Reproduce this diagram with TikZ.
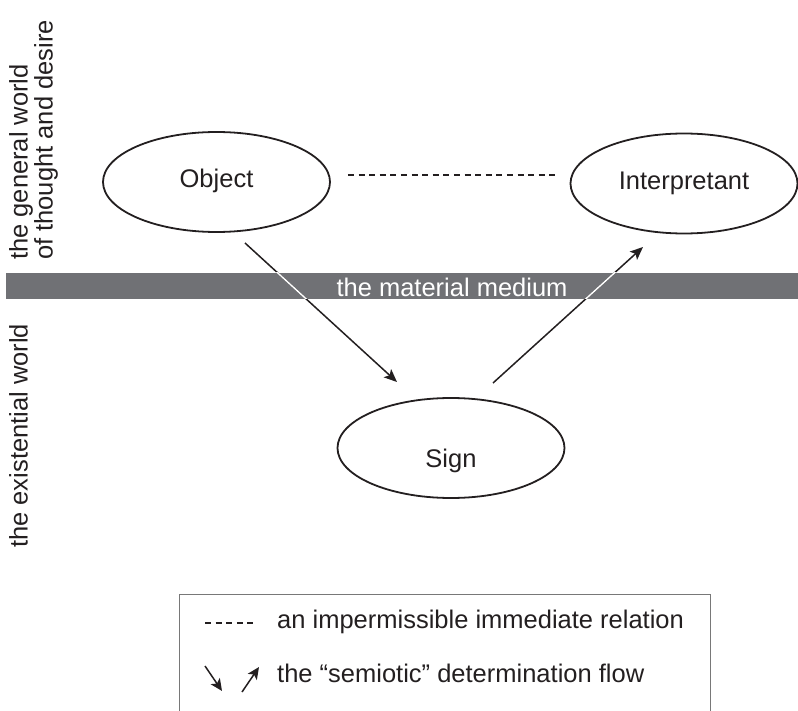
\documentclass[tikz,border=0pt]{standalone}
\usepackage{fontspec}
\setmainfont{Liberation Sans}
\usepackage{tikz}
\usetikzlibrary{shapes.geometric, arrows.meta, calc}
\definecolor{grisBande}{RGB}{112, 113, 117}
\definecolor{noirTrait}{RGB}{35, 31, 32}
\definecolor{grisCadre}{RGB}{120, 120, 120}

\begin{document}
\begin{tikzpicture}[x=1pt, y=-1pt,
  idea/.style={ellipse, draw=noirTrait, line width=1.8pt,
    minimum width=227pt, minimum height=100pt, inner sep=0pt},
  flow/.style={draw=noirTrait, line width=1.5pt,
    -{Stealth[length=13pt, width=11pt, inset=3pt]}},
  relation/.style={draw=noirTrait, line width=1.4pt, dash pattern=on 6pt off 4.6pt},
  txt/.style={font=\fontsize{25.5}{25}\selectfont, text=noirTrait},
  side/.style={txt, rotate=90, align=left, inner sep=0pt, anchor=north west},
]
\useasboundingbox (0,0) rectangle (798,711);
% the material medium
\fill[grisBande] (6,273) rectangle (798,299);
% the three correlates
\node[idea, label={[txt, anchor=base, yshift=1pt]center:Object}]        (obj)    at (216.5,182) {};
\node[idea, label={[txt, anchor=base, yshift=0.5pt]center:Interpretant}] (interp) at (684,183.5) {};
\node[idea, label={[txt, anchor=base, yshift=-12.7pt]center:Sign}]      (sign)   at (451,448) {};
\coordinate (objOut)   at (245,243);
\coordinate (signIn)   at (397,382);
\coordinate (signOut)  at (493,383);
\coordinate (interpIn) at (643,247);
\draw[flow] (objOut) -- (signIn);
\draw[flow] (signOut) -- (interpIn);
\draw[relation, shorten <=17pt, shorten >=12pt]
  ($(obj.east)+(0,-7)$) -- ($(interp.west)+(0,-8.5)$);
% lines turn white inside the band
\begin{scope}
  \clip (6,273) rectangle (798,299);
  \draw[white, line width=1.5pt] (objOut) -- (signIn);
  \draw[white, line width=1.5pt] (signOut) -- (interpIn);
\end{scope}
\node[txt, text=white, anchor=base] (medium) at (452,296.5) {the material medium};
% the two worlds
\node[side] (worldTop) at (9,260) {the general world\\of thought and desire};
\node[side] (worldLow) at (9,548) {the existential world};
% legend
\draw[grisCadre, line width=1pt] (179,720) |- (710,594) -- (710,720);
\draw[relation] (205,623) -- (253,623);
\node[txt, anchor=base west, inner sep=0pt] (legRel) at (277,628)
  {an impermissible immediate relation};
\draw[flow, -{Stealth[length=12pt, width=11pt, inset=3pt]}] (205,666) -- (222,691);
\draw[flow, -{Stealth[length=12pt, width=11pt, inset=3pt]}] (242,692) -- (259,667);
\node[txt, anchor=base west, inner sep=0pt] (legFlow) at (277,682)
  {the “semiotic” determination flow};
\end{tikzpicture}
\end{document}
